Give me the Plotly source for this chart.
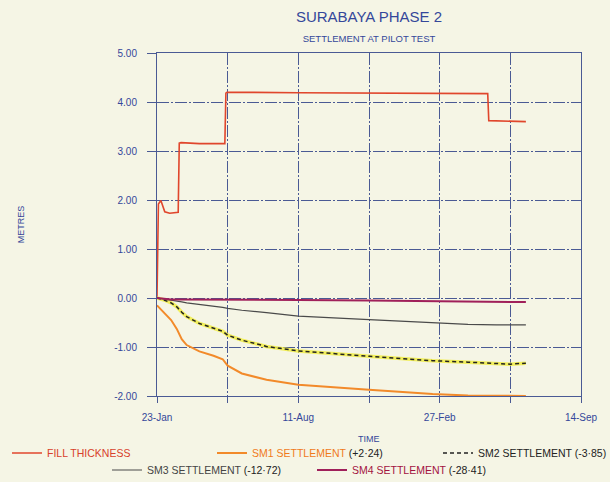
import pandas as pd
import plotly.graph_objects as go

# ---------------- data ----------------
start_date = "1995-01-23"
tick_days = [0, 100, 200, 300, 400, 500, 600]
tick_labels = ["23-Jan", "", "11-Aug", "", "27-Feb", "", "14-Sep"]

fill_days = [0, 1, 2, 5.5, 8.5, 11, 18, 28, 30, 31.5, 34, 60, 96, 97.5, 99,
             200, 300, 400, 468, 469.5, 522]
fill_thickness = [0, 1.2, 1.92, 1.99, 1.85, 1.76, 1.73, 1.74, 1.75, 3.16, 3.17,
                  3.15, 3.15, 4.18, 4.20, 4.19, 4.18, 4.18, 4.17, 3.62, 3.60]

set_days = [0, 10, 20, 28, 35, 42, 60, 80, 93, 100, 120, 155, 200, 300, 390,
            440, 480, 500, 522]
sm1 = [-0.15, -0.29, -0.45, -0.63, -0.84, -0.96, -1.09, -1.18, -1.25, -1.38,
       -1.54, -1.67, -1.77, -1.87, -1.96, -1.99, -2.00, -2.00, -2.00]
sm2 = [0.00, -0.04, -0.10, -0.18, -0.29, -0.38, -0.52, -0.61, -0.68, -0.76,
       -0.86, -0.99, -1.08, -1.19, -1.28, -1.31, -1.33, -1.35, -1.33]
sm3 = [0.00, -0.02, -0.04, -0.06, -0.08, -0.10, -0.13, -0.16, -0.19, -0.21,
       -0.25, -0.30, -0.37, -0.44, -0.51, -0.54, -0.55, -0.55, -0.55]
sm4 = [0.00, -0.02, -0.03, -0.03, -0.03, -0.03, -0.04, -0.04, -0.04, -0.04,
       -0.04, -0.04, -0.04, -0.05, -0.07, -0.07, -0.08, -0.08, -0.08]

y_ticks = [5, 4, 3, 2, 1, 0, -1, -2]
y_tick_labels = ["5.00", "4.00", "3.00", "2.00", "1.00", "0.00", "-1.00", "-2.00"]

# ---------------- helpers ----------------
t0 = pd.Timestamp(start_date)


def to_dates(days):
    return [t0 + pd.Timedelta(days=d) for d in days]


BLUE = "#34479a"
GRID = "#4a5a94"
BG = "#f5f5e5"
FONT = "Liberation Sans"
DASH = "12px,2px,2px,2px"

fig = go.Figure()

fig.add_trace(go.Scatter(
    x=to_dates(fill_days), y=fill_thickness, mode="lines",
    line=dict(color="#e0462c", width=1.6),
    name="<span style='color:#d8402a'>FILL THICKNESS</span>",
    legend="legend"))

fig.add_trace(go.Scatter(
    x=to_dates(set_days), y=sm1, mode="lines",
    line=dict(color="#f28a2a", width=2),
    name="<span style='color:#f07a1a'>SM1 SETTLEMENT</span> (+2·24)",
    legend="legend2"))

# highlighter under SM2
fig.add_trace(go.Scatter(
    x=to_dates(set_days), y=sm2, mode="lines",
    line=dict(color="#f2ee3a", width=3.5), opacity=0.8,
    showlegend=False, hoverinfo="skip"))
fig.add_trace(go.Scatter(
    x=to_dates(set_days), y=sm2, mode="lines",
    line=dict(color="#222222", width=1.5, dash="4px,3px"),
    name="SM2 SETTLEMENT (-3·85)",
    legend="legend3"))

fig.add_trace(go.Scatter(
    x=to_dates(set_days), y=sm3, mode="lines",
    line=dict(color="#4a4a4a", width=1.2),
    name="<span style='color:#444444'>SM3 SETTLEMENT</span> (-12·72)",
    legend="legend4"))

fig.add_trace(go.Scatter(
    x=to_dates(set_days), y=sm4, mode="lines",
    line=dict(color="#a0205a", width=2),
    name="<span style='color:#a3123f'>SM4 SETTLEMENT</span> (-28·41)",
    legend="legend5"))

W, H = 610, 482
L, R, T, B = 157, 29, 53, 86
PW, PH = W - L - R, H - T - B


def leg(xpx, ypx):
    return dict(xref="container", yref="container", x=xpx / W, y=1 - ypx / H,
                xanchor="left", yanchor="middle", orientation="h",
                bgcolor="rgba(0,0,0,0)", borderwidth=0,
                font=dict(family=FONT, size=10.5, color="#222222"),
                itemwidth=30)


axis_common = dict(
    showgrid=True, gridcolor=GRID, gridwidth=1, griddash=DASH,
    ticks="outside", tickcolor=GRID,
    tickfont=dict(family=FONT, size=10, color=BLUE),
    showline=True, mirror=True, linecolor=GRID, linewidth=1,
    zeroline=False, automargin=False,
)

fig.update_layout(
    width=W, height=H,
    margin=dict(l=L, r=R, t=T, b=B, autoexpand=False),
    paper_bgcolor=BG, plot_bgcolor=BG,
    font=dict(family=FONT, color=BLUE),
    title=dict(
        text="SURABAYA PHASE 2<br><span style='font-size:9.5px'>SETTLEMENT AT PILOT TEST</span>",
        x=369 / W, xanchor="center", y=1 - 22 / H, yanchor="top",
        xref="container", yref="container",
        font=dict(family=FONT, size=15, color=BLUE)),
    legend=leg(7, 453),
    legend2=leg(212, 453),
    legend3=leg(438, 453),
    legend4=leg(107, 470),
    legend5=leg(312, 470),
    xaxis=dict(
        type="date",
        range=[t0, t0 + pd.Timedelta(days=600)],
        tickvals=to_dates(tick_days), ticktext=tick_labels,
        ticklen=6, ticklabelstandoff=6,
        **axis_common,
    ),
    yaxis=dict(
        range=[-2, 5],
        tickvals=y_ticks, ticktext=y_tick_labels,
        ticklen=9, ticklabelstandoff=8,
        title=dict(text="METRES", font=dict(family=FONT, size=9, color=BLUE), standoff=88),
        **axis_common,
    ),
    annotations=[dict(
        text="TIME", xref="paper", yref="paper",
        x=(369 - L) / PW, y=-(439 - (H - B)) / PH, xanchor="center", yanchor="middle",
        showarrow=False, font=dict(family=FONT, size=9, color=BLUE))],
)

fig.write_html("out.html", config={"displayModeBar": False},
               post_script="document.body.style.margin='0';")
